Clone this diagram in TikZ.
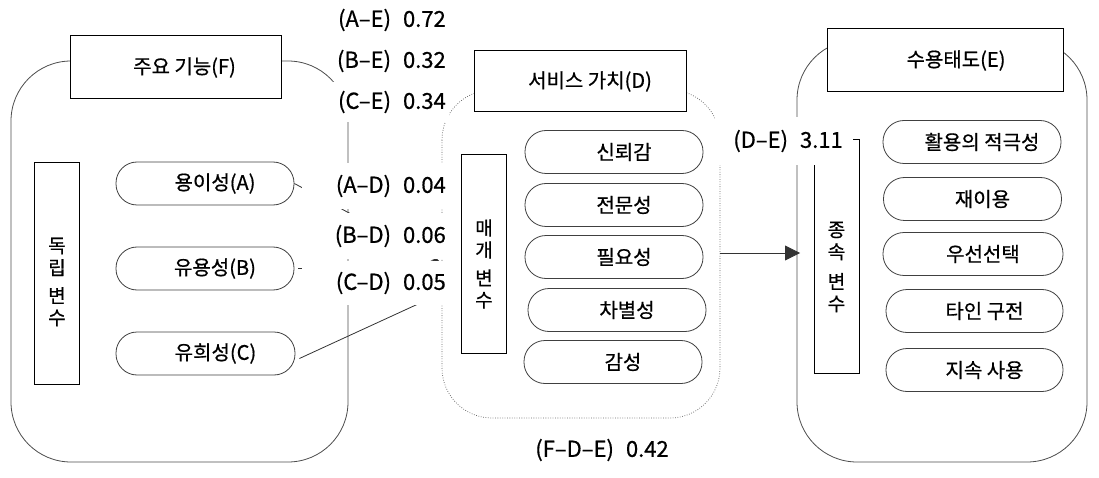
\documentclass[tikz,border=0pt]{standalone}
\usepackage{fontspec}
\setmainfont{Noto Sans CJK KR}[FakeBold=0.6]
\usetikzlibrary{arrows.meta}
\begin{document}
\begin{tikzpicture}[x=1pt,y=-1pt,
  every node/.style={font=\fontsize{20}{23}\selectfont},
  cont/.style={draw=black!70, line width=0.8pt, rounded corners=60pt},
  dcont/.style={draw=black!60, line width=0.7pt, dash pattern=on 0.8pt off 1.6pt, rounded corners=50pt},
  tbox/.style={draw=black, line width=1pt, fill=white, inner sep=0pt},
  pill/.style={draw=black!75, line width=0.8pt, fill=white, rounded corners=21pt,
    minimum width=178pt, minimum height=43pt, inner sep=0pt,
    execute at begin node={\hspace*{20pt}}},
  vbox/.style={draw=black, line width=1pt, fill=white, minimum width=45pt, inner sep=0pt},
  vtext/.style={align=center, inner sep=0pt, font=\fontsize{19}{22}\selectfont},
  mask/.style={fill=white, text width=#1, align=right, inner xsep=3pt, inner ysep=0pt,
    anchor=east, font=\fontsize{22}{25}\selectfont},
  conn/.style={draw=black!80, line width=0.8pt},
]
\useasboundingbox (0,0) rectangle (1099,478);

% containers
\draw[cont] (11,61) rectangle (348,462);
\draw[dcont] (442,90) rectangle (720,418);
\draw[cont] (797,40) rectangle (1087,462);

% title boxes
\node[tbox, minimum width=211pt, minimum height=63pt] (F) at (175.5,67.5) {\hspace*{18pt}주요 기능(F)};
\node[tbox, minimum width=212pt, minimum height=61pt] (D) at (580,81.5) {\hspace*{20pt}서비스 가치(D)};
\node[tbox, minimum width=236pt, minimum height=63pt] (E) at (945,60.5) {\hspace*{22pt}수용태도(E)};

% variable boxes
\node[vbox, minimum height=221pt] (iv) at (57,273.5) {};
\node[vtext] (ivt) at (57,282) {독\\립\\[6pt]변\\수};
\node[vbox, minimum height=198pt] (mv) at (484,254) {};
\node[vtext] (mvt) at (484,264) {매\\개\\[6pt]변\\수};
\node[vbox, minimum height=233pt] (dv) at (836.5,256.5) {};
\node[vtext] (dvt) at (836.5,267) {종\\속\\[8pt]변\\수};

% independent pills
\node[pill] (pA) at (205,183.5) {용이성(A)};
\node[pill] (pB) at (205,268.5) {유용성(B)};
\node[pill, minimum width=179pt] (pC) at (205.5,353.5) {유희성(C)};

% mediator pills
\node[pill] (m1) at (614,152) {신뢰감};
\node[pill] (m2) at (614,205) {전문성};
\node[pill] (m3) at (614,257) {필요성};
\node[pill] (m4) at (617,310) {차별성};
\node[pill] (m5) at (613,362) {감성};

% dependent pills
\node[pill] (e1) at (972,142) {활용의 적극성};
\node[pill] (e2) at (972.5,199) {재이용};
\node[pill, minimum width=180pt] (e3) at (973,254) {우선선택};
\node[pill, minimum width=177pt] (e4) at (974.5,311) {타인 구전};
\node[pill, minimum width=177pt] (e5) at (974.5,370) {지속 사용};

% connectors
\coordinate (inA) at (440,262);
\coordinate (inB) at (440,268.5);
\coordinate (inC) at (442,293);
\draw[conn, -{Stealth[length=9pt,width=6pt]}] (pA.east) -- (inA);
\draw[conn, -{Stealth[length=9pt,width=6pt]}] ([xshift=4pt]pB.east) -- (inB);
\draw[conn, -{Stealth[length=9pt,width=6pt]}] ([shift={(4,5)}]pC.east) -- (inC);
\coordinate (dOut) at (720,253);
\coordinate (eIn) at (800,253);
\draw[conn, -{Triangle[length=15pt,width=15pt]}] (dOut) -- (eIn);

% coefficient labels
\node[mask=110pt, minimum height=40pt] (lAE) at (449,20) {(A–E)\hspace{12pt}0.72};
\node[mask=110pt, minimum height=40pt] (lBE) at (449,61) {(B–E)\hspace{12pt}0.32};
\node[mask=110pt, minimum height=40pt] (lCE) at (449,102) {(C–E)\hspace{12pt}0.34};
\node[mask=141pt, minimum height=46pt] (lAD) at (449,186) {(A–D)\hspace{12pt}0.04};
\node[mask=141pt, minimum height=46pt] (lBD) at (449,236) {(B–D)\hspace{12pt}0.06};
\node[mask=141pt, minimum height=44pt] (lCD) at (449,283) {(C–D)\hspace{12pt}0.05};
\node[mask=118pt, inner xsep=10pt, minimum height=48pt] (lDE) at (853,141) {(D–E)\hspace{12pt}3.11};
\node[font=\fontsize{22}{25}\selectfont] (lFDE) at (602,450) {(F–D–E)\hspace{12pt}0.42};
\end{tikzpicture}
\end{document}
